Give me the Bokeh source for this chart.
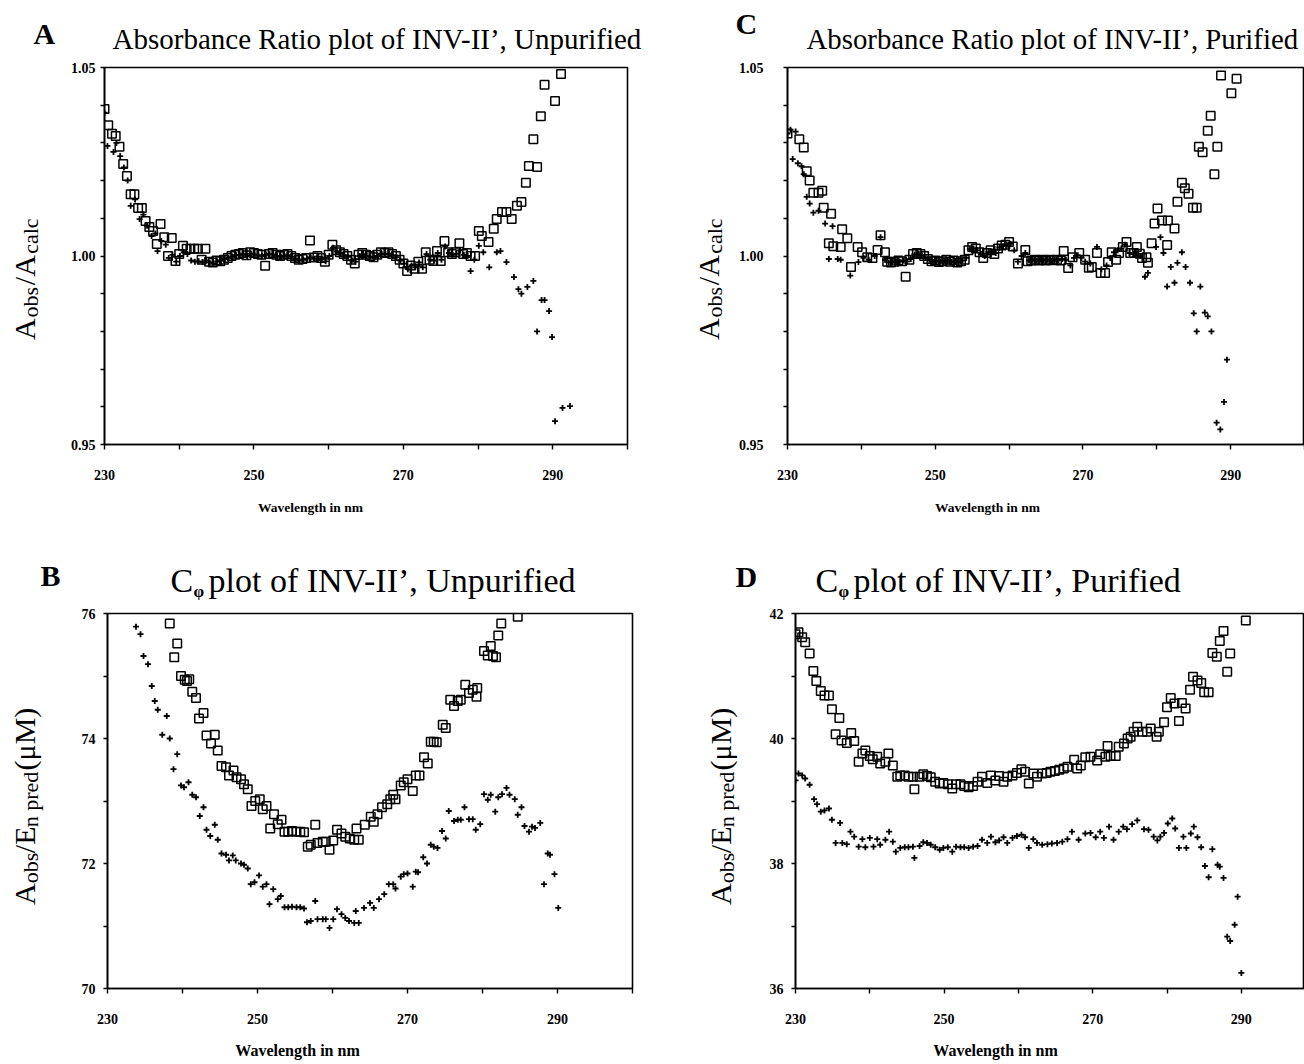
from bokeh.plotting import figure
from bokeh.models import Range1d, FixedTicker, Label, PrintfTickFormatter
from bokeh.layouts import column, row
from bokeh.embed import file_html
from bokeh.resources import INLINE
import math

FONT = "Liberation Serif"

# ---------------- data (wavelength nm, value) ----------------
A_squares = [
    (230.0, 1.039), (230.5, 1.0347), (231.0, 1.0324), (231.5, 1.0318), (232.0, 1.029), (232.5, 1.0244),
    (233.0, 1.0212), (233.5, 1.0164), (234.0, 1.0164), (234.5, 1.0127), (235.0, 1.0127), (235.5, 1.0093),
    (236.0, 1.0077), (236.5, 1.0066), (237.0, 1.0032), (237.5, 1.0085), (238.0, 1.005), (238.5, 1.0000),
    (239.0, 1.0048), (239.5, 0.9987), (240.0, 1.0005), (240.5, 1.0027), (241.0, 1.0019), (241.5, 1.0019),
    (242.0, 1.0019), (242.5, 1.0019), (243.0, 0.9990), (243.5, 1.0019), (244.0, 0.9985), (244.5, 0.9983),
    (245.0, 0.9988), (245.5, 0.9986), (246.0, 0.9990), (246.5, 0.9995), (247.0, 1.0000), (247.5, 1.0003),
    (248.0, 1.0005), (248.5, 1.0008), (249.0, 1.0002), (249.5, 1.0010), (250.0, 1.0008), (250.5, 1.0005),
    (251.0, 1.0003), (251.5, 0.9974), (252.0, 1.0005), (252.5, 1.0008), (253.0, 1.0003), (253.5, 1.0000),
    (254.0, 1.0003), (254.5, 1.0005), (255.0, 1.0000), (255.5, 0.9995), (256.0, 0.9990), (256.5, 0.9992),
    (257.0, 0.9995), (257.5, 1.0041), (258.0, 0.9996), (258.5, 1.0000), (259.0, 0.9995), (259.5, 0.9985),
    (260.0, 1.0003), (260.5, 1.0030), (261.0, 1.0015), (261.5, 1.0010), (262.0, 1.0005), (262.5, 1.0000),
    (263.0, 0.9990), (263.5, 0.9980), (264.0, 1.0003), (264.5, 1.0008), (265.0, 1.0003), (265.5, 1.0000),
    (266.0, 0.9997), (266.5, 1.0003), (267.0, 1.0010), (267.5, 1.0008), (268.0, 1.0010), (268.5, 1.0005),
    (269.0, 1.0000), (269.5, 0.9990), (270.0, 0.9980), (270.5, 0.9960), (271.0, 0.9975), (271.5, 0.9966),
    (272.0, 0.9985), (272.5, 0.9966), (273.0, 1.0010), (273.5, 0.9990), (274.0, 0.9987), (274.5, 1.0013),
    (275.0, 0.9987), (275.5, 1.0040), (276.0, 1.0010), (276.5, 1.0005), (277.0, 1.0010), (277.5, 1.0034),
    (278.0, 1.0005), (278.5, 1.0008), (279.0, 1.0000), (279.6, 1.0000), (280.1, 1.0066), (280.5, 1.0053),
    (281.4, 1.0037), (282.1, 1.0072), (282.5, 1.0098), (283.2, 1.0117), (283.8, 1.0117), (284.5, 1.0098),
    (285.2, 1.0133), (285.8, 1.0143), (286.4, 1.0194), (286.8, 1.0239), (287.4, 1.0310), (287.9, 1.0236),
    (288.4, 1.0371), (288.9, 1.0454), (290.3, 1.0411), (291.1, 1.0483),
]
A_pluses = [
    (230.0, 1.038), (230.4, 1.0292), (231.2, 1.0276), (231.6, 1.0300), (232.1, 1.0265), (232.6, 1.0235),
    (233.1, 1.0200), (233.5, 1.0133), (234.1, 1.0150), (234.7, 1.0098), (235.2, 1.0110), (235.7, 1.0080),
    (236.3, 1.0053), (236.8, 1.0060), (237.1, 1.0013), (237.6, 1.0040), (238.2, 1.0030), (238.6, 0.9995),
    (239.1, 1.0003), (239.6, 0.9985), (240.1, 1.0000), (240.6, 1.0010), (241.1, 1.0005), (241.6, 0.9988),
    (242.1, 0.9985), (242.6, 0.9986), (243.1, 0.9984), (243.6, 0.9988), (244.1, 0.9983), (244.6, 0.9980),
    (245.1, 0.9985), (245.6, 0.9988), (246.1, 0.9992), (246.6, 0.9995), (247.1, 0.9998), (247.6, 1.0002),
    (248.1, 1.0003), (248.6, 1.0005), (249.1, 1.0000), (249.6, 1.0006), (250.1, 1.0004), (250.6, 1.0002),
    (251.1, 1.0000), (251.6, 1.0003), (252.1, 1.0005), (252.6, 1.0004), (253.1, 1.0000), (253.6, 0.9998),
    (254.1, 1.0000), (254.6, 1.0002), (255.1, 0.9998), (255.6, 0.9992), (256.1, 0.9988), (256.6, 0.9990),
    (257.1, 0.9993), (257.6, 0.9996), (258.1, 0.9993), (258.6, 0.9998), (259.1, 0.9992), (259.6, 0.9986),
    (260.1, 1.0000), (260.6, 1.0022), (261.1, 1.0012), (261.6, 1.0008), (262.1, 1.0002), (262.6, 0.9998),
    (263.1, 0.9988), (263.6, 0.9985), (264.1, 1.0000), (264.6, 1.0005), (265.1, 1.0000), (265.6, 0.9998),
    (266.1, 0.9995), (266.6, 1.0000), (267.1, 1.0006), (267.6, 1.0005), (268.1, 1.0006), (268.6, 1.0002),
    (269.1, 0.9997), (269.6, 0.9988), (270.1, 0.9980), (270.6, 0.9965), (271.1, 0.9975), (271.6, 0.9970),
    (272.1, 0.9983), (272.6, 0.9970), (273.1, 1.0005), (273.6, 0.9990), (274.1, 0.9988), (274.6, 1.0008),
    (275.1, 0.9990), (275.6, 1.0025), (276.1, 1.0008), (276.6, 1.0003), (277.1, 1.0006), (277.6, 1.0015),
    (278.1, 1.0003), (278.6, 1.0000), (279.0, 0.9960), (279.5, 0.9990), (280.1, 1.0027), (280.7, 1.0010),
    (281.5, 0.9970), (282.5, 1.0010), (283.0, 1.0013), (283.8, 0.9984), (284.8, 0.9944), (285.4, 0.9912),
    (285.8, 0.9900), (286.6, 0.9918), (287.4, 0.9934), (287.9, 0.9800), (288.5, 0.9883), (288.9, 0.9883),
    (289.5, 0.9854), (289.9, 0.9785), (290.3, 0.9562), (290.8, 0.9487), (291.3, 0.9597), (291.9, 0.9485),
    (292.3, 0.9602),
]
C_squares = [
    (230.0, 1.0325), (231.6, 1.0310), (232.2, 1.0288), (232.6, 1.0225), (233.0, 1.0200), (233.5, 1.0168),
    (234.2, 1.0168), (234.7, 1.0173), (234.9, 1.0128), (235.6, 1.0034), (235.9, 1.0112), (236.2, 1.0026),
    (237.2, 1.0024), (237.4, 1.0071), (238.1, 1.0047), (238.6, 0.9971), (239.5, 1.0024), (240.1, 1.0010),
    (240.8, 0.9997), (241.5, 0.9995), (242.2, 1.0016), (242.6, 1.0055), (243.2, 1.0010), (243.5, 0.9985),
    (244.0, 0.9983), (244.5, 0.9985), (245.0, 0.9988), (245.5, 0.9986), (246.0, 0.9945), (246.5, 0.9990),
    (247.0, 1.0005), (247.5, 1.0008), (248.0, 1.0005), (248.5, 1.0000), (249.0, 0.9992), (249.5, 0.9986),
    (250.0, 0.9988), (250.5, 0.9984), (251.0, 0.9986), (251.5, 0.9990), (252.0, 0.9985), (252.5, 0.9988),
    (253.0, 0.9983), (253.5, 0.9986), (254.0, 0.9990), (254.5, 1.0015), (255.0, 1.0024), (255.5, 1.0020),
    (256.0, 1.0010), (256.5, 0.9995), (257.0, 1.0008), (257.5, 1.0015), (258.0, 1.0005), (258.5, 1.0020),
    (259.0, 1.0028), (259.5, 1.0030), (260.0, 1.0037), (260.5, 1.0025), (261.2, 0.9980), (262.2, 1.0016),
    (262.5, 0.9986), (263.0, 0.9988), (263.5, 0.9990), (264.0, 0.9988), (264.5, 0.9990), (265.0, 0.9988),
    (265.5, 0.9990), (266.0, 0.9989), (266.5, 0.9990), (267.0, 0.9988), (267.4, 1.0013), (268.0, 0.9968),
    (268.6, 0.9997), (269.5, 1.0008), (270.3, 0.9990), (270.8, 0.9969), (271.2, 0.9971), (271.9, 1.0008),
    (272.4, 0.9955), (273.0, 0.9955), (273.4, 0.9984), (273.9, 1.0010), (274.5, 0.9990), (274.9, 1.0008),
    (275.4, 1.0024), (275.9, 1.0037), (276.4, 1.0008), (276.9, 1.0008), (277.3, 1.0024), (277.7, 1.0006),
    (278.0, 0.9995), (278.6, 0.9997), (278.8, 0.9982), (279.3, 1.0034), (279.7, 1.0086), (280.1, 1.0126),
    (280.7, 1.0094), (281.4, 1.0029), (281.5, 1.0094), (282.4, 1.0073), (282.8, 1.0144), (283.4, 1.0194),
    (283.8, 1.0180), (284.3, 1.0165), (284.9, 1.0128), (285.4, 1.0128), (285.7, 1.0290), (286.2, 1.0275),
    (286.9, 1.0332), (287.3, 1.0372), (287.8, 1.0217), (288.2, 1.0290), (288.7, 1.0479), (290.1, 1.0432),
    (290.8, 1.0470),
]
C_pluses = [
    (230.0, 1.0325), (230.4, 1.0335), (230.7, 1.0257), (231.1, 1.0330), (231.4, 1.0246), (231.9, 1.0238),
    (232.2, 1.0217), (232.6, 1.0157), (233.0, 1.0139), (233.5, 1.0115), (234.2, 1.0120), (235.1, 1.0086),
    (235.6, 0.9992), (236.1, 1.0079), (236.8, 0.9992), (237.2, 0.9990), (238.5, 0.9948), (239.6, 0.9984),
    (240.3, 0.9995), (241.0, 0.9990), (241.8, 1.0000), (242.6, 1.0050), (243.2, 0.9990), (243.7, 0.9983),
    (244.2, 0.9984), (244.7, 0.9986), (245.2, 0.9985), (245.7, 0.9988), (246.2, 0.9986), (246.7, 0.9992),
    (247.2, 1.0004), (247.7, 1.0006), (248.2, 1.0002), (248.7, 0.9996), (249.2, 0.9990), (249.7, 0.9985),
    (250.2, 0.9987), (250.7, 0.9985), (251.2, 0.9988), (251.7, 0.9988), (252.2, 0.9984), (252.7, 0.9986),
    (253.2, 0.9984), (253.7, 0.9988), (254.2, 0.9995), (254.7, 1.0018), (255.2, 1.0020), (255.7, 1.0015),
    (256.2, 1.0005), (256.7, 1.0000), (257.2, 1.0010), (257.7, 1.0012), (258.2, 1.0008), (258.7, 1.0022),
    (259.2, 1.0026), (259.7, 1.0030), (260.2, 1.0032), (260.7, 1.0015), (261.2, 0.9985), (261.7, 1.0000),
    (262.2, 1.0008), (262.7, 0.9988), (263.2, 0.9990), (263.7, 0.9988), (264.2, 0.9990), (264.7, 0.9989),
    (265.2, 0.9990), (265.7, 0.9988), (266.2, 0.9990), (266.7, 0.9989), (267.2, 0.9992), (267.7, 0.9990),
    (268.3, 0.9975), (268.8, 0.9995), (269.3, 1.0002), (269.8, 0.9995), (270.3, 0.9985), (271.0, 0.9980),
    (271.9, 1.0024), (272.5, 0.9965), (273.2, 0.9975), (273.7, 0.9995), (274.2, 1.0010), (274.7, 1.0015),
    (275.2, 1.0020), (275.7, 1.0030), (276.3, 1.0008), (276.8, 1.0005), (277.3, 1.0006), (277.8, 1.0000),
    (278.4, 0.9945), (278.8, 0.9955), (279.9, 1.0024), (280.5, 1.0050), (280.9, 1.0008), (281.4, 0.9919),
    (281.9, 0.9971), (282.4, 0.9929), (282.8, 0.9982), (283.4, 1.0010), (283.9, 0.9971), (284.5, 0.9929),
    (285.0, 0.9848), (285.4, 0.9800), (285.9, 0.9919), (286.5, 0.9850), (286.9, 0.9840), (287.4, 0.9800),
    (288.1, 0.9558), (288.6, 0.9540), (289.1, 0.9613), (289.5, 0.9725),
]
B_squares = [
    (238.3, 75.84), (238.9, 75.30), (239.3, 75.52), (239.8, 75.00), (240.3, 74.94), (240.6, 74.92),
    (240.9, 74.95), (241.3, 74.75), (241.8, 74.65), (242.2, 74.32), (242.8, 74.41), (243.2, 74.05),
    (243.8, 73.92), (244.3, 74.06), (244.7, 73.81), (245.2, 73.56), (245.8, 73.54), (246.2, 73.41),
    (246.8, 73.49), (247.2, 73.38), (247.8, 73.35), (248.2, 73.27), (248.7, 73.19), (249.2, 72.92),
    (249.7, 73.00), (250.3, 73.03), (250.7, 72.87), (251.2, 72.92), (251.7, 72.56), (252.2, 72.79),
    (252.7, 72.63), (253.2, 72.70), (253.6, 72.51), (254.1, 72.51), (254.6, 72.52), (255.2, 72.51),
    (255.7, 72.51), (256.2, 72.50), (256.7, 72.27), (257.1, 72.30), (257.7, 72.62), (258.0, 72.33),
    (258.7, 72.35), (259.1, 72.35), (259.6, 72.22), (260.1, 72.37), (260.6, 72.54), (261.2, 72.48),
    (261.7, 72.43), (262.3, 72.40), (262.9, 72.38), (263.2, 72.56), (263.5, 72.38), (264.3, 72.62),
    (265.1, 72.75), (265.5, 72.67), (266.0, 72.79), (266.6, 72.90), (267.3, 72.95), (267.7, 73.03),
    (268.1, 73.10), (268.4, 73.03), (269.1, 73.25), (269.5, 73.30), (270.0, 73.35), (270.7, 73.16),
    (271.1, 73.41), (271.6, 73.41), (272.2, 73.70), (272.7, 73.60), (273.1, 73.95), (273.5, 73.95),
    (273.9, 73.94), (274.7, 74.22), (275.1, 74.17), (275.7, 74.62), (276.2, 74.52), (276.7, 74.60),
    (277.1, 74.62), (277.7, 74.86), (278.2, 74.73), (278.7, 74.78), (279.2, 74.67), (279.3, 74.81),
    (280.2, 75.40), (280.7, 75.33), (281.1, 75.48), (281.4, 75.32), (281.8, 75.30), (282.1, 75.65),
    (282.5, 75.84), (284.7, 75.95),
]
B_pluses = [
    (233.8, 75.79), (234.4, 75.67), (234.8, 75.32), (235.4, 75.19), (235.9, 74.84), (236.3, 74.60),
    (236.7, 74.46), (237.3, 74.06), (237.9, 74.36), (238.3, 74.00), (238.8, 73.51), (239.3, 73.75),
    (239.8, 73.25), (240.2, 73.22), (240.8, 73.30), (241.3, 73.10), (241.8, 73.06), (242.3, 72.76),
    (242.8, 72.90), (243.2, 72.54), (243.7, 72.44), (244.3, 72.62), (244.7, 72.38), (245.2, 72.16),
    (245.8, 72.14), (246.2, 72.05), (246.7, 72.13), (247.1, 72.05), (247.8, 72.00), (248.2, 71.98),
    (248.7, 71.92), (249.1, 71.67), (249.6, 71.70), (250.2, 71.81), (250.7, 71.63), (251.2, 71.67),
    (251.6, 71.35), (252.1, 71.59), (252.7, 71.43), (253.1, 71.48), (253.6, 71.30), (254.1, 71.30),
    (254.6, 71.31), (255.2, 71.30), (255.7, 71.30), (256.2, 71.28), (256.6, 71.06), (257.1, 71.08),
    (257.7, 71.40), (258.0, 71.11), (258.7, 71.11), (259.1, 71.11), (259.6, 70.97), (260.1, 71.11),
    (260.6, 71.27), (261.2, 71.19), (261.7, 71.13), (262.2, 71.08), (262.9, 71.05), (263.1, 71.24),
    (263.5, 71.05), (264.2, 71.29), (265.0, 71.37), (265.5, 71.29), (266.2, 71.43), (266.9, 71.51),
    (267.5, 71.67), (268.1, 71.67), (268.4, 71.60), (269.1, 71.79), (269.5, 71.83), (270.0, 71.84),
    (270.7, 71.63), (271.1, 71.87), (271.4, 71.86), (272.1, 72.10), (272.6, 72.00), (273.1, 72.30),
    (273.5, 72.27), (274.0, 72.25), (274.6, 72.52), (275.1, 72.40), (275.5, 72.84), (276.2, 72.68),
    (276.7, 72.70), (277.1, 72.70), (277.6, 72.90), (278.2, 72.71), (278.7, 72.71), (279.1, 72.54),
    (279.7, 72.63), (280.2, 73.11), (280.7, 73.02), (281.1, 73.10), (281.7, 72.83), (282.1, 73.06),
    (282.6, 73.11), (283.2, 73.21), (283.6, 73.10), (284.3, 73.03), (284.7, 72.78), (285.2, 72.90),
    (285.6, 72.60), (286.2, 72.51), (286.6, 72.59), (287.0, 72.57), (287.7, 72.65), (288.2, 71.67),
    (288.7, 72.16), (289.0, 72.14), (289.6, 71.83), (290.1, 71.29),
]
D_squares = [
    (230.0, 41.67), (230.4, 41.70), (230.9, 41.62), (231.3, 41.54), (231.9, 41.36), (232.4, 41.08),
    (232.8, 40.92), (233.4, 40.76), (233.9, 40.69), (234.5, 40.69), (234.9, 40.47), (235.4, 40.07),
    (235.9, 40.33), (236.2, 39.97), (236.9, 39.93), (237.5, 40.09), (237.9, 39.96), (238.5, 39.63),
    (239.0, 39.76), (239.4, 39.81), (240.0, 39.72), (240.4, 39.67), (241.0, 39.71), (241.4, 39.60),
    (242.1, 39.63), (242.5, 39.76), (243.1, 39.57), (243.7, 39.39), (244.1, 39.41), (244.7, 39.41),
    (245.2, 39.39), (245.8, 39.39), (246.0, 39.19), (246.7, 39.39), (247.2, 39.43), (247.7, 39.40),
    (248.2, 39.38), (248.8, 39.31), (249.4, 39.28), (249.9, 39.29), (250.5, 39.27), (251.1, 39.20),
    (251.6, 39.27), (252.2, 39.27), (252.7, 39.24), (253.3, 39.22), (253.9, 39.24), (254.5, 39.31),
    (255.1, 39.39), (255.8, 39.29), (256.3, 39.41), (256.9, 39.33), (257.4, 39.40), (258.0, 39.31),
    (258.5, 39.39), (259.2, 39.41), (259.8, 39.45), (260.4, 39.51), (260.9, 39.47), (261.4, 39.28),
    (262.0, 39.44), (262.5, 39.39), (263.2, 39.44), (263.8, 39.45), (264.3, 39.47), (264.9, 39.48),
    (265.5, 39.50), (266.1, 39.52), (266.6, 39.55), (267.5, 39.66), (267.9, 39.52), (268.4, 39.57),
    (269.0, 39.70), (269.7, 39.71), (270.6, 39.65), (271.0, 39.75), (271.7, 39.71), (272.0, 39.88),
    (272.4, 39.72), (273.1, 39.72), (273.5, 39.87), (274.2, 39.92), (274.7, 40.00), (275.1, 40.03),
    (275.5, 40.11), (276.0, 40.19), (276.7, 40.11), (277.3, 40.11), (277.8, 40.16), (278.6, 40.03),
    (278.9, 40.11), (279.6, 40.26), (280.0, 40.50), (280.5, 40.65), (281.0, 40.56), (281.6, 40.28),
    (282.0, 40.57), (282.5, 40.48), (283.1, 40.78), (283.5, 40.99), (284.1, 40.93), (284.6, 40.89),
    (285.0, 40.74), (285.6, 40.74), (286.1, 41.37), (286.7, 41.31), (287.1, 41.56), (287.6, 41.72),
    (288.1, 41.07), (288.5, 41.36), (290.6, 41.89),
]
D_pluses = [
    (230.0, 39.33), (230.4, 39.44), (230.9, 39.41), (231.3, 39.36), (231.9, 39.26), (232.5, 39.03),
    (232.9, 38.95), (233.4, 38.83), (233.9, 38.85), (234.5, 38.88), (234.9, 38.70), (235.4, 38.33),
    (236.0, 38.65), (236.3, 38.33), (236.9, 38.31), (237.4, 38.51), (237.9, 38.43), (238.5, 38.27),
    (239.0, 38.39), (239.4, 38.26), (240.0, 38.41), (240.5, 38.27), (241.0, 38.39), (241.4, 38.30),
    (242.1, 38.38), (242.6, 38.51), (243.1, 38.35), (243.5, 38.19), (244.1, 38.25), (244.7, 38.26),
    (245.2, 38.26), (245.8, 38.27), (246.0, 38.09), (246.7, 38.28), (247.2, 38.34), (247.7, 38.33),
    (248.2, 38.30), (248.8, 38.26), (249.4, 38.22), (249.9, 38.25), (250.5, 38.26), (251.1, 38.19),
    (251.6, 38.27), (252.2, 38.26), (252.7, 38.26), (253.3, 38.25), (253.9, 38.27), (254.5, 38.28),
    (255.1, 38.38), (255.8, 38.33), (256.3, 38.43), (256.9, 38.34), (257.4, 38.37), (258.0, 38.42),
    (258.5, 38.33), (259.2, 38.41), (259.8, 38.44), (260.4, 38.46), (260.9, 38.42), (261.4, 38.25),
    (262.0, 38.39), (262.5, 38.33), (263.2, 38.30), (263.9, 38.31), (264.5, 38.32), (265.2, 38.33),
    (265.9, 38.35), (266.6, 38.39), (267.2, 38.51), (268.1, 38.38), (269.0, 38.48), (269.7, 38.49),
    (270.4, 38.42), (271.0, 38.51), (271.5, 38.41), (272.2, 38.59), (272.8, 38.38), (273.5, 38.51),
    (274.1, 38.59), (274.6, 38.55), (275.3, 38.63), (276.0, 38.69), (276.9, 38.55), (277.5, 38.54),
    (278.2, 38.43), (278.7, 38.37), (279.1, 38.43), (279.6, 38.49), (280.1, 38.64), (280.7, 38.72),
    (281.1, 38.56), (281.6, 38.25), (282.2, 38.43), (282.6, 38.25), (283.2, 38.48), (283.6, 38.59),
    (284.1, 38.42), (284.6, 38.26), (285.1, 37.96), (285.6, 37.78), (286.1, 38.23), (286.8, 37.98),
    (287.1, 37.95), (287.6, 37.77), (288.1, 36.83), (288.5, 36.76), (289.1, 37.02), (289.5, 37.47),
    (290.0, 36.25),
]

X_MAJOR = [230, 250, 270, 290]
X_MINOR = [240, 260, 280, 300]
RATIO_MAJOR = [0.95, 1.00, 1.05]
RATIO_MINOR = [0.96, 0.97, 0.98, 0.99, 1.01, 1.02, 1.03, 1.04]
B_MAJOR = [70, 72, 74, 76]
B_MINOR = [71, 73, 75]
D_MAJOR = [36, 38, 40, 42]
D_MINOR = [37, 39, 41]

TITLE_A = "Absorbance Ratio plot of INV-II’, Unpurified"
TITLE_C = "Absorbance Ratio plot of INV-II’, Purified"
TITLE_B = "plot of INV-II’, Unpurified"
TITLE_D = "plot of INV-II’, Purified"
XLABEL = "Wavelength in nm"

UP = math.pi / 2


def make_panel(w, h, frame_l, frame_r, frame_t, frame_b, x_end, y0, y1, yticks, yminor, yfmt, ystand):
    p = figure(width=w, height=h, x_range=Range1d(230, x_end), y_range=Range1d(y0, y1),
               output_backend="svg", toolbar_location=None,
               min_border_left=frame_l, min_border_right=w - frame_r,
               min_border_top=frame_t, min_border_bottom=h - frame_b)
    p.xgrid.visible = False
    p.ygrid.visible = False
    p.outline_line_color = "black"
    p.outline_line_width = 1.6
    p.background_fill_color = "white"
    p.border_fill_color = "white"
    xa = p.xaxis[0]
    xa.ticker = FixedTicker(ticks=X_MAJOR, minor_ticks=X_MINOR)
    ya = p.yaxis[0]
    ya.ticker = FixedTicker(ticks=yticks, minor_ticks=yminor)
    ya.formatter = PrintfTickFormatter(format=yfmt)
    for ax in (xa, ya):
        ax.axis_line_width = 1.6
        ax.axis_line_color = "black"
        ax.major_tick_in = 0
        ax.minor_tick_in = 0
        ax.major_tick_line_width = 1.4
        ax.minor_tick_line_width = 1.4
        ax.major_label_text_font = FONT
        ax.major_label_text_font_style = "bold"
        ax.major_label_text_font_size = "14px"
        ax.major_label_text_color = "black"
    xa.major_tick_out = 5
    xa.minor_tick_out = 5
    xa.major_label_standoff = 20
    ya.major_tick_out = 4
    ya.minor_tick_out = 4
    ya.major_label_standoff = ystand
    return p


def make_strip(w, h):
    s = figure(width=w, height=h, x_range=Range1d(0, w), y_range=Range1d(h, 0),
               output_backend="svg", toolbar_location=None,
               x_axis_location=None, y_axis_location=None,
               min_border_left=0, min_border_right=0, min_border_top=0, min_border_bottom=0)
    s.xgrid.visible = False
    s.ygrid.visible = False
    s.outline_line_color = None
    s.background_fill_color = "white"
    s.border_fill_color = "white"
    return s


def txt(s, x, y, text, size, bold=False, angle=0.0, align="left", baseline="middle"):
    s.add_layout(Label(x=x, y=y, text=text, text_font=FONT, text_font_size=f"{size}px",
                       text_font_style="bold" if bold else "normal", angle=angle,
                       text_align=align, text_baseline=baseline, text_color="black"))


def plot_points(p, squares, pluses):
    p.scatter([a for a, b in squares], [b for a, b in squares], marker="square", size=8.5,
              line_color="black", fill_color=None, line_width=1.5)
    p.scatter([a for a, b in pluses], [b for a, b in pluses], marker="cross", size=6,
              line_color="black", line_width=1.8)


ROT_SHIFT = 32


def ratio_label(s, x, y):
    y = y + ROT_SHIFT
    txt(s, x, y, "A", 30, angle=UP)
    txt(s, x + 6, y - 26, "obs", 22, angle=UP)
    txt(s, x, y - 63, "/A", 30, angle=UP)
    txt(s, x + 6, y - 99, "calc", 22, angle=UP)


def conc_label(s, x, y):
    y = y + ROT_SHIFT
    txt(s, x, y, "A", 30, angle=UP)
    txt(s, x + 6, y - 25, "obs", 22, angle=UP)
    txt(s, x, y - 60, "/E", 30, angle=UP)
    txt(s, x + 6, y - 90, "n pred", 22, angle=UP)
    txt(s, x, y - 156, "(μM)", 30, angle=UP)


# ---- layout bands (global px): top strip 0-57, row1 57-490, mid strip 490-600, row2 600-1035, bottom 1035-1064
S1 = make_strip(1304, 57)
txt(S1, 33, 33, "A", 30, bold=True)
txt(S1, 112, 38, TITLE_A, 29)
txt(S1, 735, 23, "C", 30, bold=True)
txt(S1, 806, 38, TITLE_C, 28.8)

LA = make_strip(60, 433)
ratio_label(LA, 24, 338 - 57)
pA = make_panel(592, 433, 44, 567, 10, 387, 300, 0.95, 1.05, RATIO_MAJOR, RATIO_MINOR, "%.2f", 5)
LC = make_strip(80, 433)
ratio_label(LC, 708 - 652, 338 - 57)
pC = make_panel(572, 433, 55, 572, 8, 390, 300, 0.95, 1.05, RATIO_MAJOR, RATIO_MINOR, "%.2f", 20)

S2 = make_strip(1304, 110)
txt(S2, 310, 507 - 490, XLABEL, 13.5, bold=True, align="center")
txt(S2, 987, 507 - 490, XLABEL, 13.5, bold=True, align="center")
txt(S2, 40, 575 - 490, "B", 30, bold=True)
txt(S2, 170, 580 - 490, "C", 34)
txt(S2, 193, 591 - 490, "φ", 17, bold=True)
txt(S2, 208, 580 - 490, TITLE_B, 34)
txt(S2, 735, 576 - 490, "D", 30, bold=True)
txt(S2, 815, 580 - 490, "C", 34)
txt(S2, 838, 591 - 490, "φ", 17, bold=True)
txt(S2, 853, 580 - 490, TITLE_D, 34)

LB = make_strip(60, 435)
conc_label(LB, 24, 906 - 600)
pB = make_panel(592, 435, 47, 572, 10, 388, 300, 70, 76, B_MAJOR, B_MINOR, "%d", 8)
LD = make_strip(92, 435)
conc_label(LD, 720 - 652, 906 - 600)
pD = make_panel(560, 435, 51, 560, 13, 389, 298.5, 36, 42, D_MAJOR, D_MINOR, "%d", 8)

S3 = make_strip(1304, 29)
txt(S3, 297, 15, XLABEL, 16, bold=True, align="center")
txt(S3, 995, 15, XLABEL, 16, bold=True, align="center")

plot_points(pA, A_squares, A_pluses)
plot_points(pC, C_squares, C_pluses)
plot_points(pB, B_squares, B_pluses)
plot_points(pD, D_squares, D_pluses)

layout = column(S1, row(LA, pA, LC, pC), S2, row(LB, pB, LD, pD), S3)
open("out.html", "w").write(file_html(layout, INLINE))
